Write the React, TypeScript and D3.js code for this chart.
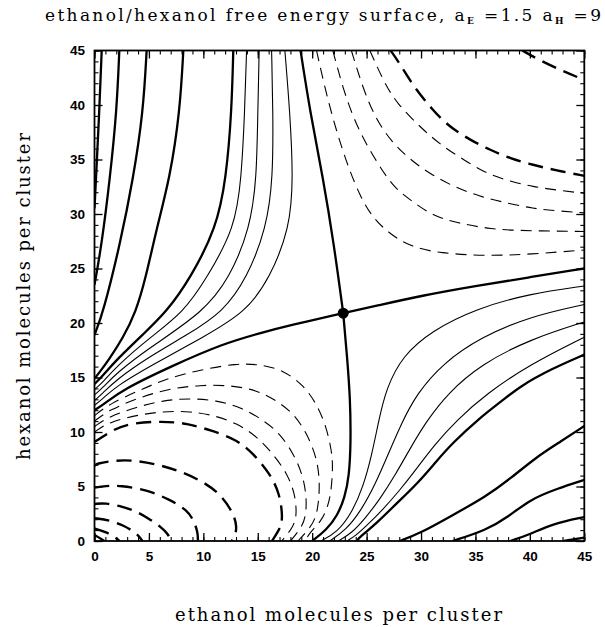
import { useEffect, useRef } from 'react';
import * as d3 from 'd3';

type Pt = [number, number];

// ---- contour lines (ethanol n_E, hexanol n_H) ----
// solid, upper-left side of the saddle (higher than the saddle)
const tl25: Pt[] = [[0.66, 45], [0.44, 39.4], [0.14, 33.3], [0, 30.5]];
const tl20: Pt[] = [[2.28, 45], [2.04, 39.4], [1.42, 33.3], [0.66, 27.2], [0, 23.5]];
const tl15: Pt[] = [[4.79, 45], [4.48, 39.4], [3.57, 33.3], [2.34, 27.2], [0.81, 21.0], [0, 18.9]];
const tl10: Pt[] = [[8.16, 45], [7.85, 39.4], [6.93, 33.3], [5.71, 28.7], [4.7, 24.1], [3.8, 21], [2.6, 18.6], [1.3, 16.6], [0.4, 15.4], [0, 14.9]];
const tl5: Pt[] = [[12.75, 45], [12.6, 39.4], [12.1, 33.3], [11.2, 28.7], [8.8, 24.1], [6.6, 21], [4.5, 19], [2, 16.6], [0.7, 15.1], [0, 14.4]];
const tl4: Pt[] = [[13.97, 45], [13.8, 39.4], [13.5, 33.3], [12.9, 28.7], [10.3, 24.1], [8.2, 21], [5, 18.6], [2, 16.0], [0.7, 14.5], [0, 13.9]];
const tl3: Pt[] = [[15.13, 45], [15.0, 39.4], [14.9, 33.3], [14.3, 28.7], [12.4, 24.1], [10.0, 21], [5, 17.7], [2, 15.4], [0.7, 14.0], [0, 13.4]];
const tl2: Pt[] = [[16.27, 45], [16.4, 39.4], [16.4, 33.3], [15.8, 28.7], [14.0, 24.1], [11.8, 21], [8.5, 18.9], [5, 16.9], [2, 14.8], [0.7, 13.5], [0, 12.9]];
const tl1: Pt[] = [[17.49, 45], [17.95, 39.4], [18.26, 33.3], [17.95, 28.7], [16.1, 24.1], [13.9, 21], [10, 18.7], [5, 16.0], [2, 14.2], [0.7, 13.0], [0, 12.45]];

// the saddle contour, four arms
const saddle: Pt = [22.85, 20.9];
const armUp: Pt[] = [saddle, [22.0, 27.2], [21.0, 33.3], [19.8, 39.4], [18.93, 45]];
const armLeft: Pt[] = [saddle, [18, 19.8], [15.3, 19.1], [11.8, 18.1], [7.2, 16.1], [2.6, 13.9], [0.8, 12.5], [0, 12.0]];
const armRight: Pt[] = [saddle, [26, 21.6], [30, 22.5], [35, 23.4], [40, 24.2], [45, 25.0]];
const armDown: Pt[] = [saddle, [23.2, 17], [23.5, 13], [23.55, 9], [23.4, 6], [23, 4], [22.3, 2.3], [21.3, 1.0], [20.0, 0]];

// solid, lower-right side
const br1: Pt[] = [[45, 23.4], [40, 22.7], [35, 21.3], [31, 19.3], [28.3, 17], [26.8, 14], [26.1, 11], [25.5, 8], [24.7, 5], [23.6, 2.5], [22.3, 0.8], [20.8, 0]];
const br2: Pt[] = [[45, 21.7], [40, 20.6], [35.5, 18.7], [32, 16.3], [29.6, 13.5], [28.2, 10.8], [27, 8], [25.8, 5.2], [24.5, 2.8], [23.1, 1.0], [21.6, 0]];
const br3: Pt[] = [[45, 20.1], [40, 18.5], [35.5, 16.2], [32.5, 13.6], [30.5, 11], [29, 8.5], [27.6, 6], [26.2, 3.8], [24.8, 2.0], [23.6, 0.7], [22.4, 0]];
const br4: Pt[] = [[45, 18.7], [40, 16.2], [36, 13.5], [33.3, 11.1], [31.2, 8.8], [29.5, 6.5], [28, 4.6], [26.5, 2.9], [25, 1.4], [24, 0.5], [23.2, 0]];
const br5: Pt[] = [[45, 17.1], [42, 15.8], [39.1, 14.2], [37.5, 12.9], [35.4, 11.3], [32.9, 9.0], [31.4, 7.3], [29.7, 5.3], [27.75, 3.45], [25.9, 1.6], [24.4, 0.4], [24.1, 0]];
const br10: Pt[] = [[28.05, 0], [30, 0.75], [32.6, 2.2], [36.0, 4.1], [38.3, 5.8], [40.6, 7.7], [42.8, 9.1], [45, 10.55]];
const br15: Pt[] = [[32.9, 0], [36.0, 1.0], [38, 2.2], [40.0, 3.8], [42.5, 4.8], [45, 5.6]];
const br20: Pt[] = [[38.2, 0], [40, 0.6], [42.1, 1.6], [45, 2.2]];
const br25: Pt[] = [[43.1, 0], [45, 0.3]];

// dashed, upper-right side (lower than the saddle)
const tr1: Pt[] = [[20.4, 45], [21.2, 41.4], [22.2, 37.7], [23.2, 34.6], [24.4, 31.6], [25.6, 29.6], [27.1, 28.2], [29, 27.0], [31.7, 26.4], [36, 26.15], [40, 26.3], [45, 26.7]];
const tr2: Pt[] = [[21.9, 45], [22.85, 41.4], [24.1, 38.0], [25.6, 35.3], [27.4, 32.5], [29.0, 31.3], [31.1, 29.8], [33.3, 29.2], [36.3, 28.6], [40, 28.45], [45, 28.4]];
const tr3: Pt[] = [[23.6, 45], [24.7, 41.4], [25.9, 38.6], [27.4, 36.5], [29.0, 35.0], [30.8, 33.7], [33.0, 32.5], [35.4, 31.6], [37.9, 31.0], [40.3, 30.5], [42.4, 30.3], [45, 30.1]];
const tr4: Pt[] = [[25.3, 45], [26.5, 42.3], [27.7, 40.2], [30.2, 37.7], [32.0, 36.2], [33.9, 35.0], [36.0, 33.7], [38.2, 33.0], [40.3, 32.5], [42.4, 32.2], [45, 31.9]];
const tr5: Pt[] = [[27.2, 45], [28.05, 43.8], [29.3, 41.7], [31.1, 39.5], [32.6, 38.0], [34.5, 36.8], [36.3, 35.9], [38.2, 35.1], [40.3, 34.5], [42.4, 34.0], [45, 33.5]];
const tr10: Pt[] = [[39.3, 45], [40.9, 44.1], [43.05, 43.1], [45, 42.3]];

// dashed, lower-left side
const bl1: Pt[] = [[0, 11.5], [1.4, 12.6], [4.2, 13.85], [6.6, 14.9], [9.7, 15.7], [13.1, 16.3], [15.2, 16.2], [17.3, 15.7], [19.2, 14.3], [20.4, 12.6], [21.3, 10.5], [21.8, 8.2], [21.9, 6.8], [21.75, 4.5], [21.4, 3.0], [20.8, 1.8], [19.9, 0.9], [19.3, 0]];
const bl2: Pt[] = [[0, 11.0], [1.3, 12.0], [4.2, 13.2], [7.0, 14.0], [9.7, 14.3], [12.4, 14.3], [14.9, 13.85], [16.7, 12.9], [18.3, 11.7], [19.5, 9.9], [20.4, 7.7], [20.7, 5.6], [20.6, 3.5], [20.3, 2], [19.7, 1.1], [18.7, 0]];
const bl3: Pt[] = [[0, 10.5], [1.3, 11.4], [3.9, 12.3], [6.3, 12.9], [8.8, 13.1], [11.2, 12.9], [13.4, 12.3], [15.5, 11.1], [17.0, 9.9], [18.3, 8.0], [19.2, 5.9], [19.5, 3.8], [19.4, 2.2], [19.0, 1.2], [18.0, 0]];
const bl4: Pt[] = [[0, 10.0], [1.3, 10.9], [3.9, 11.55], [6.3, 11.9], [8.8, 11.9], [10.9, 11.55], [13.1, 10.8], [14.9, 9.6], [16.4, 8.0], [17.7, 6.2], [18.4, 4.4], [18.6, 2.5], [18.3, 1.3], [17.2, 0]];
const bl5: Pt[] = [[0, 9.1], [0.5, 9.4], [1.4, 10.0], [3.0, 10.8], [6.3, 11.0], [8.5, 10.8], [10.7, 10.15], [13.1, 9.3], [14.6, 8.0], [16.1, 6.2], [17.0, 4.4], [17.3, 2.2], [17.1, 1.2], [16.3, 0]];
const bl10: Pt[] = [[0, 6.9], [0.2, 7.1], [1.5, 7.35], [3.3, 7.45], [5.5, 7.1], [7.6, 6.5], [9.7, 5.6], [11.5, 4.4], [12.75, 2.6], [13.1, 1.3], [12.9, 0.4], [12.6, 0]];
const bl15: Pt[] = [[0, 4.9], [1, 5.05], [2.35, 5.1], [4.8, 4.7], [6.9, 3.8], [8.5, 2.85], [9.1, 1.9], [9.5, 0.8], [9.5, 0]];
const bl20: Pt[] = [[0, 3.4], [1, 3.5], [2.6, 3.15], [3.9, 2.7], [4.9, 2.1], [6.1, 1.3], [6.8, 0.6], [7.0, 0]];
const bl25: Pt[] = [[0, 2.1], [1.4, 1.9], [2.65, 1.45], [3.9, 0.7], [4.4, 0]];
const bl30: Pt[] = [[0, 1.15], [1.1, 0.8], [1.9, 0.35], [2.3, 0]];
const bl35: Pt[] = [[0, 0.55], [0.7, 0.15], [0.9, 0]];

const thickSolid = [tl25, tl20, tl15, tl10, tl5, armUp, armLeft, armRight, armDown, br5, br10, br15, br20, br25];
const thinSolid = [tl4, tl3, tl2, tl1, br1, br2, br3, br4];
const thinDashed = [tr1, tr2, tr3, tr4, bl1, bl2, bl3, bl4];
const thickDashed = [tr5, tr10, bl5, bl10, bl15, bl20, bl25, bl30, bl35];

const majorTicks = d3.range(0, 46, 5);
const minorTicks = d3.range(0, 46, 1);

function App() {
  const svgRef = useRef<SVGSVGElement>(null);

  useEffect(() => {
    const svg = d3.select(svgRef.current);
    svg.selectAll('*').remove();

    const left = 94.5, right = 584.3, top = 50.5, bottom = 541;
    const x = d3.scaleLinear().domain([0, 45]).range([left, right]);
    const y = d3.scaleLinear().domain([0, 45]).range([bottom, top]);

    svg.append('defs').append('clipPath').attr('id', 'plot')
      .append('rect').attr('x', left).attr('y', top)
      .attr('width', right - left).attr('height', bottom - top);

    const line = d3.line<Pt>()
      .x((d) => x(d[0]))
      .y((d) => y(d[1]))
      .curve(d3.curveBasis);

    const g = svg.append('g').attr('clip-path', 'url(#plot)').attr('fill', 'none').attr('stroke', '#000');

    const draw = (set: Pt[][], width: number, dash: string | null) => {
      g.selectAll(null)
        .data(set)
        .enter()
        .append('path')
        .attr('d', line)
        .attr('stroke-width', width)
        .attr('stroke-dasharray', dash);
    };
    draw(thinSolid, 1.1, null);
    draw(thickSolid, 2.3, null);
    draw(thinDashed, 1.1, '11 7');
    draw(thickDashed, 2.4, '15 8');

    svg.append('circle')
      .attr('cx', x(saddle[0]))
      .attr('cy', y(saddle[1]))
      .attr('r', 5.5)
      .attr('fill', '#000');

    // ticks point inward on all four sides: minor every 1, major every 5
    const ticks = (axis: any, tr: string, values: number[], size: number, labels: boolean, pad = 3) => {
      const s = svg.append('g').attr('transform', tr)
        .call(axis.tickValues(values).tickSize(-size).tickPadding(pad)
          .tickFormat(labels ? d3.format('d') : () => ''));
      s.select('.domain').remove();
      s.selectAll('line').attr('stroke-width', size > 5 ? 1.3 : 1.1);
      s.selectAll('text')
        .attr('font-family', '"Liberation Sans", Arial, sans-serif')
        .attr('font-size', 13.5)
        .attr('font-weight', 'bold')
        .attr('fill', '#000');
    };
    ticks(d3.axisBottom(x), `translate(0,${bottom})`, minorTicks, 4, false);
    ticks(d3.axisTop(x), `translate(0,${top})`, minorTicks, 4, false);
    ticks(d3.axisLeft(y), `translate(${left},0)`, minorTicks, 4, false);
    ticks(d3.axisRight(y), `translate(${right},0)`, minorTicks, 4, false);
    ticks(d3.axisBottom(x), `translate(0,${bottom})`, majorTicks, 8, true, 10.5);
    ticks(d3.axisTop(x), `translate(0,${top})`, majorTicks, 8, false);
    ticks(d3.axisLeft(y), `translate(${left},0)`, majorTicks, 8, true, 9.5);
    ticks(d3.axisRight(y), `translate(${right},0)`, majorTicks, 8, false);

    svg.append('rect')
      .attr('x', left).attr('y', top)
      .attr('width', right - left).attr('height', bottom - top)
      .attr('fill', 'none').attr('stroke', '#000').attr('stroke-width', 1.8);

    // titles
    const serif = '"DejaVu Serif", serif';
    const title = svg.append('text')
      .attr('x', 45).attr('y', 21)
      .attr('font-family', serif).attr('font-size', 17)
      .attr('textLength', 556).attr('lengthAdjust', 'spacing');
    title.append('tspan').text('ethanol/hexanol free energy surface, a');
    title.append('tspan').attr('dy', 3).attr('font-size', 9).attr('font-weight', 'bold').text('E');
    title.append('tspan').attr('dy', -3).text(' =1.5 a');
    title.append('tspan').attr('dy', 3).attr('font-size', 9).attr('font-weight', 'bold').text('H');
    title.append('tspan').attr('dy', -3).text(' =9');

    svg.append('text')
      .attr('x', 175).attr('y', 621)
      .attr('font-family', serif).attr('font-size', 18)
      .attr('textLength', 327).attr('lengthAdjust', 'spacing')
      .text('ethanol molecules per cluster');

    svg.append('text')
      .attr('transform', 'translate(30,460) rotate(-90)')
      .attr('font-family', serif).attr('font-size', 18)
      .attr('textLength', 327).attr('lengthAdjust', 'spacing')
      .text('hexanol molecules per cluster');
  }, []);

  return (
    <div style={{ position: 'absolute', left: 0, top: 0 }}>
      <svg ref={svgRef} width={605} height={627} style={{ display: 'block', background: '#fff' }} />
    </div>
  );
}

export default App;
